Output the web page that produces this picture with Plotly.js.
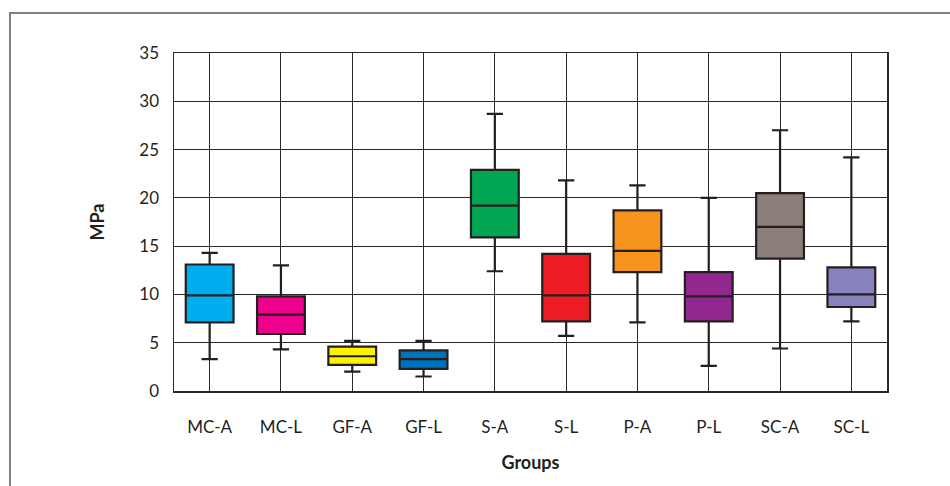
<!DOCTYPE html>
<html>
<head>
<meta charset="utf-8">
<script src="https://cdn.plot.ly/plotly-3.0.1.min.js"></script>
<style>
  html, body { margin: 0; padding: 0; background: #fff; }
  #wrap { position: relative; width: 950px; height: 486px; overflow: hidden; }
  #frame { position: absolute; left: 9px; top: 12px; width: 960px; height: 500px;
           border-left: 2px solid #808080; border-top: 2px solid #808080; pointer-events: none; }
  #chart { position: absolute; left: 0; top: 0; width: 950px; height: 486px; }
</style>
</head>
<body>
<div id="wrap">
  <div id="chart"></div>
  <div id="frame"></div>
</div>
<script>
const groups = ["MC-A", "MC-L", "GF-A", "GF-L", "S-A", "S-L", "P-A", "P-L", "SC-A", "SC-L"];
const lowerWhisker = [3.3, 4.3, 2.0, 1.5, 12.4, 5.7, 7.1, 2.6, 4.4, 7.2];
const q1Values     = [7.1, 5.9, 2.7, 2.3, 15.9, 7.2, 12.3, 7.2, 13.7, 8.7];
const medianValues = [9.9, 7.9, 3.6, 3.3, 19.2, 9.9, 14.5, 9.8, 17.0, 10.0];
const q3Values     = [13.1, 9.8, 4.6, 4.2, 22.9, 14.2, 18.7, 12.3, 20.5, 12.8];
const upperWhisker = [14.3, 13.0, 5.2, 5.2, 28.7, 21.8, 21.3, 20.0, 27.0, 24.2];
const fillColors = ["#00aeef", "#ec008c", "#fff200", "#0072bc", "#00a651",
                    "#ed1c24", "#f7941d", "#92278f", "#8c7e78", "#8781bd"];
const yTicks = [0, 5, 10, 15, 20, 25, 30, 35];

const ink = "#231f20";
const traces = groups.map((g, i) => ({
  type: "box",
  name: g,
  x: [g],
  q1: [q1Values[i]],
  median: [medianValues[i]],
  q3: [q3Values[i]],
  lowerfence: [lowerWhisker[i]],
  upperfence: [upperWhisker[i]],
  width: 0.67,
  whiskerwidth: 0.34,
  fillcolor: fillColors[i],
  line: { color: ink, width: 2.2 },
  boxpoints: false,
  showlegend: false,
  hoverinfo: "skip"
}));

const font = "Lato, 'Open Sans', 'DejaVu Sans', sans-serif";
const layout = {
  width: 950,
  height: 486,
  margin: { l: 174, r: 63, t: 53, b: 95 },
  paper_bgcolor: "#ffffff",
  plot_bgcolor: "#ffffff",
  showlegend: false,
  boxmode: "overlay",
  font: { family: font, size: 17, color: ink },
  xaxis: {
    type: "category",
    categoryorder: "array",
    categoryarray: groups,
    range: [-0.5, 9.5],
    showgrid: true,
    gridcolor: "#2a2a2a",
    gridwidth: 1,
    showline: true,
    linecolor: "#2a2a2a",
    linewidth: 1.5,
    mirror: true,
    ticks: "",
    ticklabelstandoff: 20,
    tickfont: { family: font, size: 17, color: ink },
    zeroline: false,
    fixedrange: true,
    title: { text: "<b>Groups</b>", font: { family: font, size: 18, color: ink }, standoff: 20 }
  },
  yaxis: {
    range: [0, 35],
    tickvals: yTicks,
    ticktext: yTicks.map(String),
    showgrid: true,
    gridcolor: "#2a2a2a",
    gridwidth: 1,
    showline: true,
    linecolor: "#2a2a2a",
    linewidth: 1.5,
    mirror: true,
    ticks: "",
    ticklabelstandoff: 10,
    tickfont: { family: font, size: 17, color: ink },
    zeroline: false,
    fixedrange: true,
    title: { text: "<b>MPa</b>", font: { family: font, size: 18, color: ink }, standoff: 30 }
  }
};

Plotly.newPlot("chart", traces, layout, { displayModeBar: false, staticPlot: true });
</script>
</body>
</html>
